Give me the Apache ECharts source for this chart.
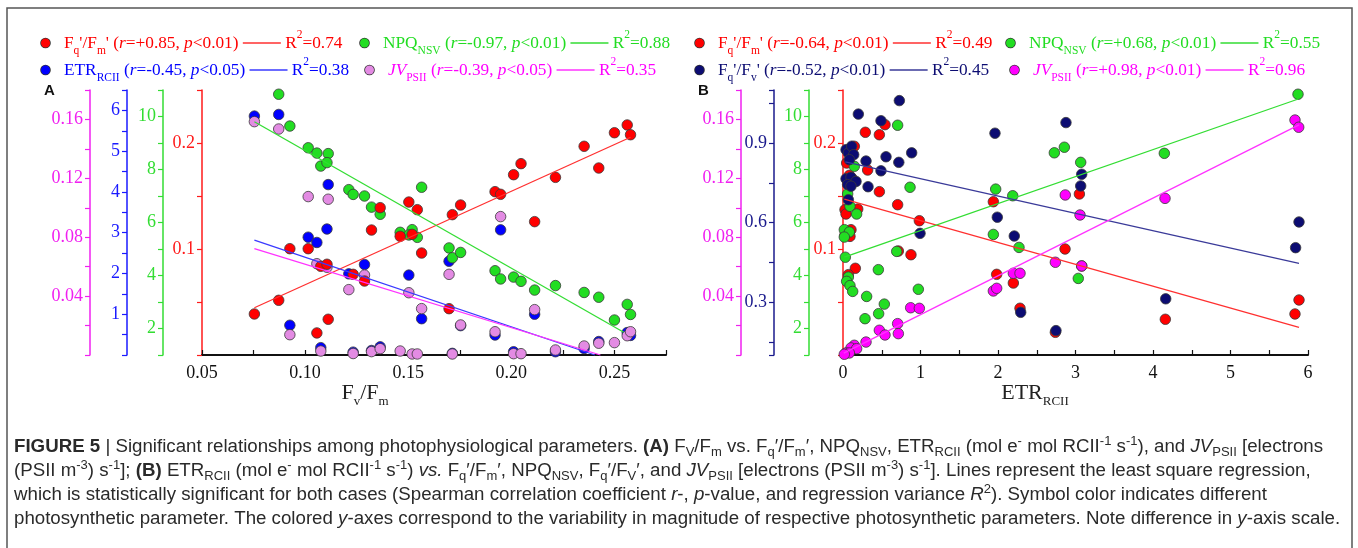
<!DOCTYPE html>
<html><head><meta charset="utf-8">
<script src="https://cdn.jsdelivr.net/npm/echarts@6/dist/echarts.min.js"></script>
<style>html,body{margin:0;padding:0;background:#fff}#c{width:1358px;height:548px}</style>
</head><body><div id="c"></div>
<script>
// ---------- Panel A data: x = Fv/Fm ----------
const aFqFm = [[0.0754,0.0387],[0.0872,0.0516],[0.0926,0.1003],[0.1015,0.1003],[0.1076,0.0837],[0.1106,0.0856],[0.1057,0.0208],[0.1112,0.0337],[0.1322,0.1179],[0.1364,0.139],[0.1503,0.1443],[0.1544,0.1371],[0.1461,0.112],[0.1519,0.1138],[0.1565,0.0962],[0.1233,0.0761],[0.1288,0.0698],
  [0.2562,0.217],[0.25,0.2097],[0.2578,0.2078],[0.2353,0.1969],[0.2047,0.1805],[0.2011,0.1701],[0.2424,0.1764],[0.2214,0.1676],[0.1921,0.1541],[0.1948,0.1516],[0.1754,0.1415],[0.1714,0.1324],[0.2113,0.1258],[0.1698,0.0437]];
const aNPQ = [[0.0872,10.84],[0.0926,9.64],[0.1015,8.82],[0.1057,8.62],[0.1112,8.60],[0.1076,8.13],[0.1106,8.26],[0.1212,7.24],[0.1233,7.06],[0.1288,7.0],[0.1322,6.58],[0.1364,6.31],[0.1461,5.63],[0.1519,5.73],[0.1503,5.53],[0.1544,5.44],[0.1565,7.33],
  [0.1698,5.04],[0.1714,4.67],[0.1754,4.87],[0.1921,4.18],[0.1948,3.87],[0.2011,3.94],[0.2047,3.78],[0.2113,3.45],[0.2214,3.62],[0.2353,3.36],[0.2424,3.18],[0.2562,2.91],[0.2578,2.53],[0.25,2.32]];
const aETR = [[0.0754,5.86],[0.0872,5.90],[0.1112,4.18],[0.1106,3.09],[0.1015,2.89],[0.1057,2.76],[0.1288,2.22],[0.1212,1.99],[0.1503,1.96],[0.1565,0.89],[0.0926,0.73],[0.1076,0.18],[0.1233,0.07],[0.1322,0.11],[0.1364,0.2],
  [0.1698,2.30],[0.1948,3.07],[0.2113,1.0],[0.1921,0.49],[0.1754,0.72],[0.2011,0.08],[0.1714,0.04],[0.2214,0.08],[0.2353,0.16],[0.2424,0.33],[0.2562,0.55],[0.2578,0.48]];
const aJV = [[0.0754,0.1585],[0.0872,0.1535],[0.1015,0.1076],[0.1112,0.1058],[0.1057,0.062],[0.1106,0.0596],[0.1212,0.0444],[0.1288,0.0543],[0.1503,0.0423],[0.1565,0.0315],[0.0926,0.0138],[0.1076,0.0027],[0.1233,0.001],[0.1322,0.0023],[0.1364,0.0043],[0.1461,0.0027],[0.1519,0.0007],[0.1544,0.0007],
  [0.1698,0.0548],[0.1948,0.094],[0.2113,0.0308],[0.1921,0.0158],[0.1754,0.0204],[0.2011,0.0009],[0.2047,0.0009],[0.2214,0.0034],[0.2353,0.0061],[0.2424,0.008],[0.25,0.0084],[0.2562,0.0131],[0.2578,0.0158],[0.1714,0.0007]];
// regression line end points
const aFqFmFit = [[0.0754,0.0446],[0.2578,0.2054]];
const aNPQFit = [[0.0754,9.80],[0.2545,1.86]];
const aETRFit = [[0.0754,2.82],[0.2405,0]];
const aJVFit = [[0.0754,0.0722],[0.2432,0]];

// ---------- Panel B data: x = ETR_RCII ----------
const bFqFm = [[0.542,0.2173],[0.288,0.2101],[0.469,0.2078],[0.146,0.1969],[0.047,0.1811],[0.318,0.1745],[0.082,0.1695],[0.112,0.167],[0.469,0.1541],[0.026,0.1371],[0.039,0.133],[0.19,0.1377],[0.705,0.1418],[0.103,0.1182],[0.026,0.1135],[0.09,0.1119],[0.714,0.0981],[0.159,0.0818],[0.069,0.0758],
  [0.985,0.1267],[0.877,0.0946],[1.94,0.1446],[1.983,0.0761],[2.198,0.0679],[2.284,0.0441],[2.74,0.0214],[2.865,0.1],[3.05,0.1519],[3.08,0.084],[5.884,0.0519],[5.832,0.0387],[4.159,0.0337]];
const bNPQ = [[0.705,9.67],[0.146,8.12],[0.06,7.08],[0.09,6.61],[0.176,6.32],[0.017,5.73],[0.082,5.64],[0.017,5.45],[0.03,4.69],[0.693,4.91],[0.456,4.22],[0.069,3.94],[0.047,3.78],[0.09,3.62],[0.125,3.40],[0.305,3.21],[0.533,2.92],[0.284,2.37],[0.46,2.56],
  [0.865,7.33],[0.972,3.48],[1.97,7.26],[1.94,5.55],[2.19,7.01],[2.271,5.06],[2.727,8.63],[2.856,8.84],[3.067,8.27],[3.036,3.89],[5.871,10.84],[4.146,8.61]];
const bFqFv = [[0.039,0.875],[0.069,0.862],[0.112,0.888],[0.138,0.856],[0.082,0.837],[0.039,0.765],[0.103,0.771],[0.168,0.755],[0.06,0.743],[0.103,0.737],[0.069,0.686],
  [0.198,1.009],[0.49,0.984],[0.727,1.06],[0.886,0.863],[0.72,0.827],[0.555,0.848],[0.297,0.832],[0.49,0.795],[0.323,0.735],
  [1.961,0.937],[2.877,0.977],[3.067,0.738],[3.08,0.782],[1.991,0.62],[2.21,0.549],[0.994,0.559],[2.293,0.261],[2.748,0.192],[5.884,0.602],[5.84,0.505],[4.164,0.312]];
const bJV = [[0.469,0.0168],[0.705,0.0213],[0.542,0.0136],[0.714,0.0145],[0.297,0.0088],[0.146,0.0066],[0.103,0.0048],[0.176,0.0043],[0.039,0.0014],[0.082,0.0014],[0.017,0.0005],
  [0.873,0.0321],[0.985,0.0317],[1.94,0.0435],[1.983,0.0453],[2.198,0.0555],[2.284,0.0555],[2.74,0.063],[2.868,0.1087],[3.058,0.0951],[3.08,0.0605],[5.832,0.1596],[5.88,0.1547],[4.155,0.1064]];
const bFqFmFit = [[0.017,0.147],[5.884,0.0261]];
const bNPQFit = [[0.017,4.69],[5.875,10.66]];
const bFqFvFit = [[0.03,0.829],[5.884,0.446]];
const bJVFit = [[0.01,0.0013],[5.884,0.1563]];

// ---------- ticks / labels ----------
const aXTicks = [0.05,0.075,0.1,0.125,0.15,0.175,0.2,0.225,0.25,0.275];
const aXLabels = [0.05,0.1,0.15,0.2,0.25];
const bXTicks = [0,0.5,1,1.5,2,2.5,3,3.5,4,4.5,5,5.5,6];
const bXLabels = [0,1,2,3,4,5,6];
const fqTicks = [0,0.05,0.1,0.15,0.2,0.25], fqLabels = [0.1,0.2];
const npqTicks = [1,2,3,4,5,6,7,8,9,10,11], npqLabels = [2,4,6,8,10];
const etrTicks = [0,0.5,1,1.5,2,2.5,3,3.5,4,4.5,5,5.5,6,6.5], etrLabels = [1,2,3,4,5,6];
const jvTicks = [0,0.02,0.04,0.06,0.08,0.1,0.12,0.14,0.16,0.18], jvLabels = [0.04,0.08,0.12,0.16];
const fvTicks = [0.1,0.15,0.3,0.45,0.6,0.75,0.9,1.05,1.1], fvLabels = [0.3,0.6,0.9];

const SERIF = "'Liberation Serif','Times New Roman',serif";
const SANS = "'Liberation Sans',Arial,sans-serif";
const COL = {red:'#ff0000', green:'#22dd22', blue:'#0000ff', violet:'#e38be3', navy:'#0c0c72', magenta:'#ff00ff'};
const AXC = {red:'#ff1a1a', green:'#33dd33', blue:'#1a1aff', magenta:'#f020f0', navy:'#1a1a8c'};
const LNC = {red:'#ff3030', green:'#33dd33', blue:'#3a3aff', magenta:'#ff33ff', navy:'#3a3a99'};

function yAx(grid, offset, min, max, ticks, labels, color, fmt) {
  return {type:'value', gridIndex:grid, position:'left', offset:offset, min:min, max:max,
    axisLine:{show:true, onZero:false, lineStyle:{color:color, width:1.5}},
    axisTick:{show:true, inside:false, length:5, customValues:ticks, lineStyle:{color:color, width:1.2}},
    axisLabel:{show:true, customValues:labels, color:color, fontFamily:SERIF, fontSize:18, margin:7, formatter:fmt},
    splitLine:{show:false}};
}
function xAx(grid, min, max, ticks, labels, fmt) {
  return {type:'value', gridIndex:grid, min:min, max:max,
    axisLine:{show:true, onZero:false, lineStyle:{color:'#111', width:2}},
    axisTick:{show:true, inside:true, length:5, customValues:ticks, lineStyle:{color:'#111', width:1.2}},
    axisLabel:{show:true, customValues:labels, color:'#111', fontFamily:SERIF, fontSize:18, margin:9, formatter:fmt},
    splitLine:{show:false}};
}
function sc(data, xi, yi, color) {
  return {type:'scatter', xAxisIndex:xi, yAxisIndex:yi, data:data, symbolSize:10.5, clip:false, z:2,
    itemStyle:{color:color, borderColor:'#3a3a3a', borderWidth:0.8, opacity:1}, silent:true};
}
function fit(data, xi, yi, color) {
  return {type:'line', xAxisIndex:xi, yAxisIndex:yi, data:data, symbol:'none', showSymbol:false, clip:false, z:3,
    lineStyle:{color:color, width:1.3}, silent:true};
}

function legRich(txt, dot, ln) {
  const base = {fill:txt, fontFamily:SERIF, fontSize:17.3, lineHeight:28};
  return {
    dot:{width:9, height:9, borderRadius:4.5, backgroundColor:dot, borderColor:'#333', borderWidth:0.8},
    gap:{width:14},
    m:Object.assign({}, base),
    i:Object.assign({}, base, {fontStyle:'italic'}),
    sub:{fill:txt, fontFamily:SERIF, fontSize:11.5, lineHeight:11, verticalAlign:'bottom'},
    sup:{fill:txt, fontFamily:SERIF, fontSize:11.5, lineHeight:11, verticalAlign:'top'},
    ln:{width:38, height:1.3, backgroundColor:ln}
  };
}
function legItem(x, y, str, txt, dot, ln) {
  return {type:'text', x:x, y:y, silent:true,
    style:{text:str, rich:legRich(txt, dot, ln), fill:txt, fontFamily:SERIF, fontSize:17.3,
      align:'left', verticalAlign:'middle', textAlign:'left', textVerticalAlign:'middle'}};
}
const FqFm = "{m|F}{sub|q}{m|'/F}{sub|m}{m|' (}";
const FqFv = "{m|F}{sub|q}{m|'/F}{sub|v}{m|' (}";
const NPQ = "{m|NPQ}{sub|NSV}{m| (}";
const ETR = "{m|ETR}{sub|RCII}{m| (}";
const JV = "{i|JV}{sub|PSII}{m| (}";
function stat(r, p, r2) {
  return "{i|r}{m|=" + r + ", }{i|p}{m|<" + p + ") }{ln| }{m| R}{sup|2}{m|=" + r2 + "}";
}

const CAPF = 18.7;
const capRich = {
  b:{fill:'#2a2a2a', fontFamily:SANS, fontSize:CAPF, fontWeight:'bold', lineHeight:24},
  i:{fill:'#2a2a2a', fontFamily:SANS, fontSize:CAPF, fontStyle:'italic', lineHeight:24},
  sub:{fill:'#2a2a2a', fontFamily:SANS, fontSize:13, lineHeight:12, verticalAlign:'bottom'},
  sup:{fill:'#2a2a2a', fontFamily:SANS, fontSize:13, lineHeight:12, verticalAlign:'top'}
};
function cap(y, str) {
  return {type:'text', x:14, y:y, silent:true,
    style:{text:str, rich:capRich, fill:'#2a2a2a', fontFamily:SANS, fontSize:CAPF, lineHeight:24,
      align:'left', verticalAlign:'middle', textAlign:'left', textVerticalAlign:'middle'}};
}
const titleRich = {
  m:{fill:'#222', fontFamily:SERIF, fontSize:22, lineHeight:30},
  sub:{fill:'#222', fontFamily:SERIF, fontSize:13, lineHeight:13, verticalAlign:'bottom'}
};

const chart = echarts.init(document.getElementById('c'), null, {renderer:'canvas'});
chart.setOption({
  animation:false,
  backgroundColor:'#ffffff',
  grid:[{left:202, top:90, width:464, height:265}, {left:843, top:90, width:465, height:265}],
  xAxis:[xAx(0, 0.05, 0.275, aXTicks, aXLabels, v => v.toFixed(2)), xAx(1, 0, 6, bXTicks, bXLabels, v => String(v))],
  yAxis:[
    yAx(0, 0, 0, 0.25, fqTicks, fqLabels, AXC.red, v => v.toFixed(1)),
    yAx(0, 39, 1, 11, npqTicks, npqLabels, AXC.green, v => String(v)),
    yAx(0, 75, 0, 6.5, etrTicks, etrLabels, AXC.blue, v => String(v)),
    yAx(0, 112, 0, 0.18, jvTicks, jvLabels, AXC.magenta, v => v.toFixed(2)),
    yAx(1, 0, 0, 0.25, fqTicks, fqLabels, AXC.red, v => v.toFixed(1)),
    yAx(1, 34, 1, 11, npqTicks, npqLabels, AXC.green, v => String(v)),
    yAx(1, 69, 0.1, 1.1, fvTicks, fvLabels, AXC.navy, v => v.toFixed(1)),
    yAx(1, 102, 0, 0.18, jvTicks, jvLabels, AXC.magenta, v => v.toFixed(2))
  ],
  series:[
    sc(aETR, 0, 2, COL.blue), sc(aJV, 0, 3, COL.violet), sc(aNPQ, 0, 1, COL.green), sc(aFqFm, 0, 0, COL.red),
    fit(aFqFmFit, 0, 0, LNC.red), fit(aNPQFit, 0, 1, LNC.green), fit(aETRFit, 0, 2, LNC.blue), fit(aJVFit, 0, 3, LNC.magenta),
    sc(bFqFm, 1, 4, COL.red), sc(bNPQ, 1, 5, COL.green), sc(bFqFv, 1, 6, COL.navy), sc(bJV, 1, 7, COL.magenta),
    fit(bFqFmFit, 1, 4, LNC.red), fit(bNPQFit, 1, 5, LNC.green), fit(bFqFvFit, 1, 6, LNC.navy), fit(bJVFit, 1, 7, LNC.magenta)
  ],
  graphic:[
    // frame
    {type:'polyline', silent:true, shape:{points:[[7,560],[7,8],[1352,8],[1352,560]]}, style:{stroke:'#555', lineWidth:1.5, fill:null}},
    // legends panel A
    legItem(41, 43, "{dot| }{gap| }" + FqFm + stat('+0.85','0.01','0.74'), COL.red, COL.red, LNC.red),
    legItem(360, 43, "{dot| }{gap| }" + NPQ + stat('-0.97','0.01','0.88'), COL.green, COL.green, LNC.green),
    legItem(41, 70, "{dot| }{gap| }" + ETR + stat('-0.45','0.05','0.38'), COL.blue, COL.blue, LNC.blue),
    legItem(365, 70, "{dot| }{gap| }" + JV + stat('-0.39','0.05','0.35'), COL.magenta, COL.violet, LNC.magenta),
    // legends panel B
    legItem(695, 43, "{dot| }{gap| }" + FqFm + stat('-0.64','0.01','0.49'), COL.red, COL.red, LNC.red),
    legItem(1006, 43, "{dot| }{gap| }" + NPQ + stat('+0.68','0.01','0.55'), COL.green, COL.green, LNC.green),
    legItem(695, 70, "{dot| }{gap| }" + FqFv + stat('-0.52','0.01','0.45'), COL.navy, COL.navy, LNC.navy),
    legItem(1010, 70, "{dot| }{gap| }" + JV + stat('+0.98','0.01','0.96'), COL.magenta, COL.magenta, LNC.magenta),
    // panel letters
    {type:'text', x:44, y:91, silent:true, style:{text:'A', fill:'#111', fontFamily:SANS, fontSize:15, fontWeight:'bold', align:'left', verticalAlign:'middle', textAlign:'left', textVerticalAlign:'middle'}},
    {type:'text', x:698, y:91, silent:true, style:{text:'B', fill:'#111', fontFamily:SANS, fontSize:15, fontWeight:'bold', align:'left', verticalAlign:'middle', textAlign:'left', textVerticalAlign:'middle'}},
    // axis titles
    {type:'text', x:365, y:393, silent:true, style:{text:'{m|F}{sub|v}{m|/F}{sub|m}', rich:titleRich, align:'center', verticalAlign:'middle', textAlign:'center', textVerticalAlign:'middle'}},
    {type:'text', x:1035, y:393, silent:true, style:{text:'{m|ETR}{sub|RCII}', rich:titleRich, align:'center', verticalAlign:'middle', textAlign:'center', textVerticalAlign:'middle'}},
    // caption
    cap(447, "{b|FIGURE 5} | Significant relationships among photophysiological parameters. {b|(A)} F{sub|V}/F{sub|m} vs. F{sub|q}′/F{sub|m}′, NPQ{sub|NSV}, ETR{sub|RCII} (mol e{sup|-} mol RCII{sup|-1} s{sup|-1}), and {i|JV}{sub|PSII} [electrons"),
    cap(471, "(PSII m{sup|-3}) s{sup|-1}]; {b|(B)} ETR{sub|RCII} (mol e{sup|-} mol RCII{sup|-1} s{sup|-1}) {i|vs.} F{sub|q}′/F{sub|m}′, NPQ{sub|NSV}, F{sub|q}′/F{sub|V}′, and {i|JV}{sub|PSII} [electrons (PSII m{sup|-3}) s{sup|-1}]. Lines represent the least square regression,"),
    cap(495, "which is statistically significant for both cases (Spearman correlation coefficient {i|r}-, {i|p}-value, and regression variance {i|R}{sup|2}). Symbol color indicates different"),
    cap(519, "photosynthetic parameter. The colored {i|y}-axes correspond to the variability in magnitude of respective photosynthetic parameters. Note difference in {i|y}-axis scale.")
  ]
});
</script></body></html>
